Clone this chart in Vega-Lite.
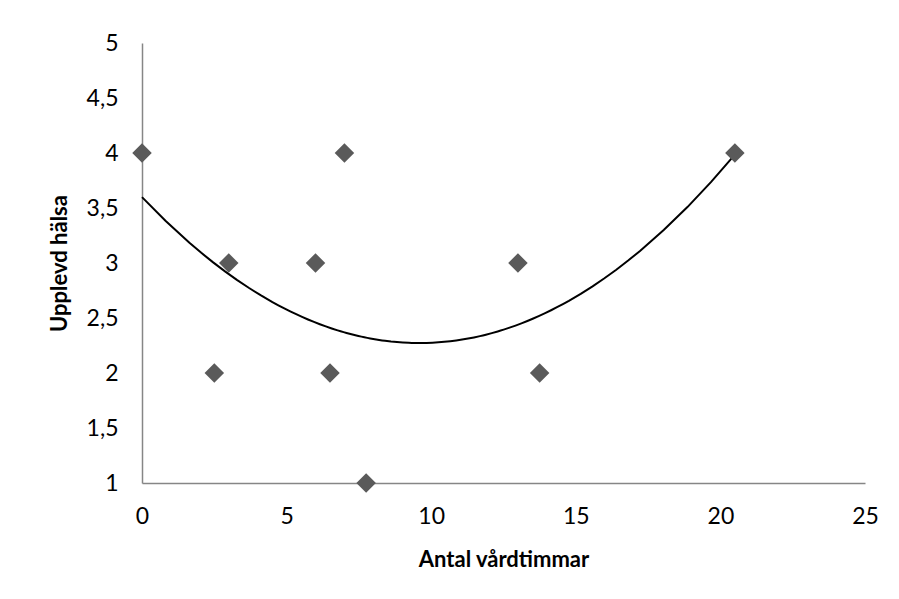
{
  "$schema": "https://vega.github.io/schema/vega-lite/v6.json",
  "width": 723,
  "height": 440,
  "autosize": "none",
  "padding": {"left": 142, "top": 43, "right": 34, "bottom": 116},
  "background": "white",
  "data": {
    "values": [
      {"timmar": 0, "halsa": 4},
      {"timmar": 2.5, "halsa": 2},
      {"timmar": 3, "halsa": 3},
      {"timmar": 6, "halsa": 3},
      {"timmar": 6.5, "halsa": 2},
      {"timmar": 7, "halsa": 4},
      {"timmar": 7.75, "halsa": 1},
      {"timmar": 13, "halsa": 3},
      {"timmar": 13.75, "halsa": 2},
      {"timmar": 20.5, "halsa": 4}
    ]
  },
  "config": {
    "view": {"stroke": null},
    "font": "Lato",
    "axis": {
      "grid": false,
      "ticks": false,
      "tickSize": 0,
      "labelFlush": false,
      "labelOverlap": false,
      "domainColor": "#868686",
      "domainWidth": 1.5,
      "labelFont": "Lato",
      "labelFontSize": 23,
      "labelColor": "#000000",
      "titleFont": "Lato",
      "titleFontSize": 22,
      "titleFontWeight": "bold",
      "titleColor": "#000000"
    }
  },
  "layer": [
    {
      "transform": [
        {"regression": "halsa", "on": "timmar", "method": "poly", "order": 2}
      ],
      "mark": {"type": "line", "color": "#000000", "strokeWidth": 2},
      "encoding": {
        "x": {"field": "timmar", "type": "quantitative"},
        "y": {"field": "halsa", "type": "quantitative"}
      }
    },
    {
      "mark": {"type": "point", "shape": "diamond", "filled": true, "color": "#5a5a5a", "opacity": 1, "size": 380},
      "encoding": {
        "x": {
          "field": "timmar",
          "type": "quantitative",
          "title": "Antal vårdtimmar",
          "scale": {"domain": [0, 25], "nice": false, "zero": false},
          "axis": {"values": [0, 5, 10, 15, 20, 25], "labelPadding": 22, "titlePadding": 21, "format": "d"}
        },
        "y": {
          "field": "halsa",
          "type": "quantitative",
          "title": "Upplevd hälsa",
          "scale": {"domain": [1, 5], "nice": false, "zero": false},
          "axis": {"values": [1, 1.5, 2, 2.5, 3, 3.5, 4, 4.5, 5], "labelPadding": 24, "titlePadding": 15, "labelExpr": "replace(format(datum.value, '~g'), '.', ',')"}
        }
      }
    }
  ]
}
